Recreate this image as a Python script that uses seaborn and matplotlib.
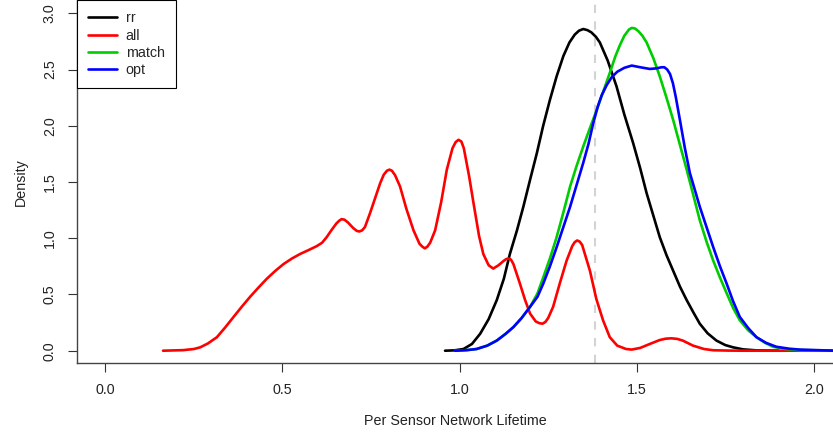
import numpy as np
import pandas as pd
import seaborn as sns
import matplotlib.pyplot as plt

# density curves (x = per sensor lifetime, y = density)
rr_x = [0.959, 0.985, 1.011, 1.035, 1.058, 1.082, 1.105, 1.125, 1.142, 1.162, 1.180, 1.199,
        1.218, 1.236, 1.255, 1.274, 1.293, 1.310, 1.325, 1.337, 1.349, 1.361, 1.372, 1.385,
        1.396, 1.418, 1.443, 1.465, 1.490, 1.510, 1.528, 1.547, 1.565, 1.584, 1.603, 1.622,
        1.641, 1.660, 1.678, 1.700, 1.725, 1.750, 1.772, 1.800, 1.838, 1.900]
rr_y = [0.0, 0.003, 0.015, 0.06, 0.15, 0.28, 0.45, 0.64, 0.86, 1.07, 1.28, 1.52,
        1.755, 2.00, 2.23, 2.44, 2.62, 2.74, 2.81, 2.845, 2.86, 2.85, 2.83, 2.79,
        2.74, 2.58, 2.35, 2.10, 1.845, 1.62, 1.40, 1.20, 1.01, 0.85, 0.71, 0.57,
        0.45, 0.34, 0.24, 0.155, 0.09, 0.05, 0.03, 0.012, 0.003, 0.0]

all_x = [0.163, 0.220, 0.250, 0.268, 0.290, 0.315, 0.338, 0.362, 0.385, 0.409, 0.432, 0.456,
         0.480, 0.503, 0.527, 0.550, 0.574, 0.597, 0.612, 0.625, 0.638, 0.652, 0.660, 0.667,
         0.675, 0.685, 0.700, 0.710, 0.717, 0.725, 0.733, 0.747, 0.762, 0.776, 0.786, 0.795,
         0.802, 0.809, 0.818, 0.832, 0.850, 0.870, 0.887, 0.895, 0.902, 0.909, 0.917, 0.931,
         0.948, 0.964, 0.980, 0.989, 0.997, 1.005, 1.012, 1.027, 1.040, 1.055, 1.067, 1.082,
         1.095, 1.110, 1.125, 1.132, 1.138, 1.145, 1.152, 1.170, 1.185, 1.199, 1.215, 1.225,
         1.234, 1.242, 1.250, 1.264, 1.283, 1.302, 1.318, 1.325, 1.332, 1.339, 1.346, 1.368,
         1.386, 1.405, 1.424, 1.445, 1.470, 1.486, 1.510, 1.537, 1.565, 1.582, 1.598, 1.614,
         1.630, 1.659, 1.690, 1.716, 1.760, 1.800, 1.900, 2.060]
all_y = [0.0, 0.005, 0.015, 0.03, 0.065, 0.12, 0.205, 0.30, 0.39, 0.48, 0.56, 0.64,
         0.71, 0.77, 0.82, 0.86, 0.895, 0.93, 0.96, 1.01, 1.07, 1.13, 1.155, 1.17,
         1.165, 1.14, 1.09, 1.065, 1.06, 1.07, 1.10, 1.22, 1.36, 1.49, 1.565, 1.60,
         1.61, 1.60, 1.56, 1.46, 1.26, 1.07, 0.95, 0.925, 0.91, 0.925, 0.96, 1.07,
         1.32, 1.61, 1.80, 1.855, 1.875, 1.86, 1.80, 1.55, 1.30, 1.02, 0.86, 0.76,
         0.73, 0.76, 0.80, 0.815, 0.82, 0.81, 0.77, 0.60, 0.45, 0.33, 0.26, 0.245,
         0.24, 0.255, 0.29, 0.39, 0.60, 0.80, 0.93, 0.965, 0.98, 0.97, 0.94, 0.71,
         0.46, 0.27, 0.12, 0.045, 0.015, 0.01, 0.025, 0.06, 0.095, 0.107, 0.11, 0.105,
         0.09, 0.045, 0.015, 0.004, 0.001, 0.0, 0.0, 0.0]

match_x = [0.987, 1.020, 1.048, 1.078, 1.105, 1.130, 1.152, 1.175, 1.199, 1.220, 1.236, 1.255,
           1.274, 1.293, 1.312, 1.330, 1.349, 1.368, 1.387, 1.405, 1.424, 1.440, 1.453, 1.465,
           1.478, 1.486, 1.495, 1.505, 1.516, 1.528, 1.547, 1.565, 1.584, 1.603, 1.622, 1.641,
           1.660, 1.678, 1.697, 1.716, 1.735, 1.754, 1.772, 1.791, 1.815, 1.838, 1.862, 1.885,
           1.920, 1.960, 2.060]
match_y = [0.0, 0.005, 0.015, 0.045, 0.09, 0.15, 0.21, 0.29, 0.39, 0.51, 0.65, 0.82,
           1.01, 1.23, 1.46, 1.64, 1.815, 1.98, 2.14, 2.30, 2.47, 2.62, 2.72, 2.80,
           2.855, 2.87, 2.865, 2.84, 2.80, 2.74, 2.60, 2.44, 2.25, 2.05, 1.83, 1.61,
           1.38, 1.16, 0.97, 0.80, 0.65, 0.51, 0.38, 0.27, 0.18, 0.12, 0.07, 0.035,
           0.015, 0.006, 0.0]

opt_x = [0.987, 1.020, 1.048, 1.078, 1.105, 1.130, 1.152, 1.175, 1.199, 1.220, 1.236, 1.255,
         1.274, 1.293, 1.312, 1.330, 1.349, 1.364, 1.377, 1.390, 1.401, 1.415, 1.429, 1.445,
         1.465, 1.486, 1.510, 1.537, 1.555, 1.570, 1.578, 1.586, 1.594, 1.602, 1.610, 1.622,
         1.636, 1.650, 1.665, 1.678, 1.697, 1.716, 1.735, 1.754, 1.772, 1.791, 1.815, 1.838,
         1.865, 1.894, 1.930, 1.960, 2.060]
opt_y = [0.0, 0.005, 0.015, 0.045, 0.09, 0.15, 0.21, 0.29, 0.39, 0.48, 0.595, 0.75,
         0.92, 1.10, 1.28, 1.47, 1.67, 1.84, 2.02, 2.17, 2.27, 2.36, 2.43, 2.48,
         2.515, 2.535, 2.52, 2.505, 2.51, 2.52, 2.52, 2.50, 2.46, 2.38, 2.26, 2.05,
         1.80, 1.58, 1.42, 1.28, 1.10, 0.92, 0.75, 0.595, 0.44, 0.30, 0.20, 0.12,
         0.07, 0.035, 0.018, 0.01, 0.0]

series_names = ['rr', 'all', 'match', 'opt']
series_colors = ['black', '#FF0000', '#00CD00', '#0000FF']
cutoff = 1.382

frames = []
for name, xs, ys in zip(series_names, [rr_x, all_x, match_x, opt_x], [rr_y, all_y, match_y, opt_y]):
    frames.append(pd.DataFrame({'lifetime': xs, 'density': ys, 'curve': name}))
df = pd.concat(frames, ignore_index=True)

sns.set_style('ticks')
plt.rcParams['font.family'] = ['Liberation Sans', 'DejaVu Sans']

fig = plt.figure(figsize=(8.33, 4.36), dpi=100)
ax = fig.add_axes([77 / 833, (436 - 363.3) / 436, 1 - 77 / 833, 363.3 / 436])

ax.axvline(cutoff, color='#D3D3D3', ls=(0, (4, 4)), lw=1.5, zorder=0)
sns.lineplot(data=df, x='lifetime', y='density', hue='curve', hue_order=series_names,
             palette=series_colors, estimator=None, sort=False, linewidth=1.9,
             solid_joinstyle='round', solid_capstyle='round', ax=ax)

ax.set_xlim(-0.0798, 2.054)
ax.set_ylim(-0.112, 3.118)
ax.set_xticks([0.0, 0.5, 1.0, 1.5, 2.0])
ax.set_yticks([0.0, 0.5, 1.0, 1.5, 2.0, 2.5, 3.0])
ax.set_xticklabels(['0.0', '0.5', '1.0', '1.5', '2.0'])
ax.set_yticklabels(['0.0', '0.5', '1.0', '1.5', '2.0', '2.5', '3.0'], rotation=90, va='center')

ax.spines['top'].set_visible(False)
ax.spines['right'].set_visible(False)
for s in ['left', 'bottom']:
    ax.spines[s].set_color('#444444')
    ax.spines[s].set_linewidth(1.0)
ax.tick_params(axis='both', direction='out', length=6.5, width=0.8, color='#333333',
               labelsize=10.3, labelcolor='#222222')
ax.tick_params(axis='y', pad=8)
ax.tick_params(axis='x', pad=8)

ax.set_xlabel('Per Sensor Network Lifetime', fontsize=10.3, color='#222222', labelpad=12)
ax.set_ylabel('Density', fontsize=10.3, color='#222222', labelpad=11)

handles, labels = ax.get_legend_handles_labels()
leg = ax.legend(handles, labels, loc='upper left', bbox_to_anchor=(0, 1), borderaxespad=0,
                fancybox=False, framealpha=1, edgecolor='black', fontsize=10.3,
                handlelength=2.0, handletextpad=0.6, labelspacing=0.22, borderpad=0.8)
leg.get_frame().set_linewidth(0.8)

fig.savefig('out.png', dpi=100)
